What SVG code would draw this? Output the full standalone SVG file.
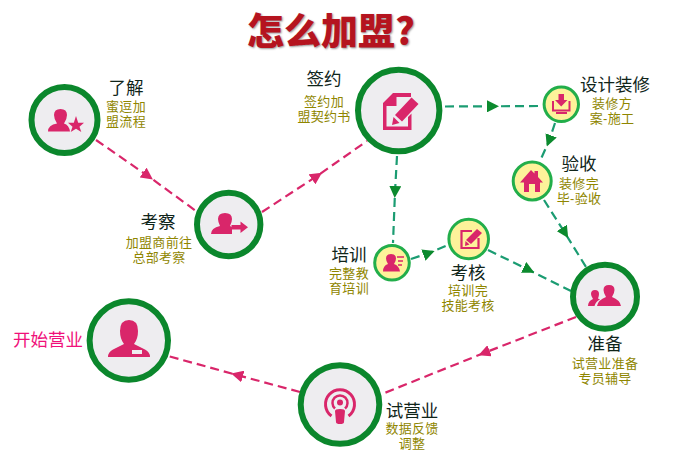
<svg xmlns="http://www.w3.org/2000/svg" width="673" height="458" viewBox="0 0 673 458">
<style>
text{font-family:"Liberation Sans","Noto Sans CJK SC",sans-serif;text-anchor:middle}
.t{font-size:17.500px;fill:#10251a}
.s{font-size:13px;letter-spacing:.3px;fill:#8f8600}
.big{fill:#eeedf0;stroke:#0b872c;stroke-width:6}
.small{fill:#fdf29a;stroke:#22ae4a;stroke-width:3}
.i{fill:#d9266a}
.il{fill:none;stroke:#d9266a;stroke-width:2.5}
.p{fill:none;stroke:#d9266a;stroke-width:2.2;stroke-dasharray:9 5;marker-mid:url(#ap)}
.g{fill:none;stroke:#1b9c72;stroke-width:2.2;stroke-dasharray:9 5;marker-mid:url(#ag)}
</style>
<defs>
<marker id="ap" viewBox="0 0 12 12" refX="6" refY="6" markerWidth="12" markerHeight="12" markerUnits="userSpaceOnUse" orient="auto"><path d="M0 0L12 6L0 12z" fill="#d9266a"/></marker>
<marker id="ag" viewBox="0 0 12 12" refX="6" refY="6" markerWidth="12" markerHeight="12" markerUnits="userSpaceOnUse" orient="auto"><path d="M0 0L12 6L0 12z" fill="#0c8a2e"/></marker>
</defs>
<text x="331" y="45" style="font-family:'Noto Sans CJK SC',sans-serif;font-size:37px;font-weight:900;fill:#b5141f;text-shadow:1px 1px 2px #999">怎么加盟?</text>
<g id="connectors">
<polyline class="p" points="96,140 148,176 196,211"/>
<polyline class="p" points="262,212 317,176 367,141"/>
<polyline class="g" points="445,106.5 493,106.3 541,106"/>
<polyline class="g" points="555,123 549,141 540,161"/>
<polyline class="g" points="544,200 565,233 586,267"/>
<polyline class="g" points="397,156 395,192 393,243"/>
<polyline class="g" points="411,259 429,253 448,245"/>
<polyline class="g" points="488,250 529,270 571,291"/>
<polyline class="p" points="576,317 484,353 382,394"/>
<polyline class="p" points="300,392 237,375 168,356"/>
</g>
<g id="n1">
<circle class="big" cx="64.500" cy="120" r="33"/>
<path class="i" d="M48 131.500Q48 125 57 123.500Q54 119 54 115Q54 109 60.500 109Q67 109 67 115Q67 119 64 123.500Q69 125 70 131.500z"/>
<path class="i" d="M76 116L78.200 122.800H84L79.500 126.700L81.300 132L76 128.800L70.700 132L72.500 126.700L68 122.800H73.800z"/>
<text class="t" x="126" y="94">了解</text>
<text class="s" x="126" y="111">蜜逗加</text>
<text class="s" x="126" y="125.500">盟流程</text>
</g>
<g id="n2">
<circle class="big" cx="228.700" cy="224.500" r="31.700"/>
<path class="i" d="M211 234Q211 228 220 226Q218 222 218 219Q218 213 225 213Q232 213 232 219Q232 222 230 226L232 227V234z"/>
<path class="i" d="M231.500 225H240.500V221.500L248 227.300L240.500 233V229.500H231.500z"/>
<text class="t" x="158" y="228">考察</text>
<text class="s" x="159" y="247">加盟商前往</text>
<text class="s" x="159" y="261.500">总部考察</text>
</g>
<g id="n3">
<circle class="big" cx="398.700" cy="110.500" r="40.700"/>
<path class="i" d="M393 93H411V97H396.500V106H386.500V126.500H408V117L411.500 113.500V130H383V103z"/>
<path class="i" d="M411.500 97.500L418.500 104L402 121.500L395 115z"/>
<path class="i" d="M393.500 117L399.500 123L392 125z"/>
<text class="t" x="324" y="85">签约</text>
<text class="s" x="324" y="106">签约加</text>
<text class="s" x="324" y="120.500">盟契约书</text>
</g>
<g id="n4">
<circle class="small" cx="561.300" cy="104.300" r="17.200"/>
<path class="il" d="M553 101V110.500H569.500V101" style="stroke-width:2"/>
<path class="i" d="M558.500 94H564V100H567.500L561.200 106.500L555 100H558.500z"/>
<path class="i" d="M556 112H567V114H556z"/>
<text class="t" x="615" y="91">设计装修</text>
<text class="s" x="612" y="108">装修方</text>
<text class="s" x="612" y="122.500">案-施工</text>
</g>
<g id="n5">
<circle class="small" cx="532.200" cy="181" r="19"/>
<path class="i" d="M531 170L534.500 173.500V171H538V177L543 182.500H540V192H535V184H529V192H524V182.500H520z"/>
<text class="t" x="579" y="170">验收</text>
<text class="s" x="579" y="188">装修完</text>
<text class="s" x="579" y="202.500">毕-验收</text>
</g>
<g id="n6">
<circle class="small" cx="392" cy="262.800" r="17.300"/>
<path class="i" d="M383 271.500Q383 265.500 388 264Q386 261 386 258.500Q386 254 391 254Q396 254 396 258.500Q396 261 394 264Q399 265.500 400 271.500z"/>
<path class="il" d="M397 257H404M398 261H403M398 265H402" style="stroke-width:1.300"/>
<text class="t" x="349" y="261">培训</text>
<text class="s" x="349" y="278">完整教</text>
<text class="s" x="349" y="292.500">育培训</text>
</g>
<g id="n7">
<circle class="small" cx="468.700" cy="239" r="19.800"/>
<path class="il" d="M472 231H461.500V248H478.500V238" style="stroke-width:2.200"/>
<path class="i" d="M477 229L482 233L471 244L466 240z"/>
<path class="i" d="M465.500 241L469.500 244.500L465 246z"/>
<text class="t" x="468" y="279">考核</text>
<text class="s" x="468" y="295">培训完</text>
<text class="s" x="468" y="309.500">技能考核</text>
</g>
<g id="n8">
<circle class="big" cx="605" cy="296.700" r="32"/>
<path class="i" d="M597 306Q598 300 606 297Q603.500 293 603.500 290Q603.500 285 609 285Q614.500 285 614.500 290Q614.500 293 612 297Q620 300 621 306z"/>
<path class="i" d="M588 306Q588 301 593 299Q591 296 591 294Q591 290 595 290Q599 290 599 294Q599 296 598 298.500L600 299.500Q596 301 594.500 306z"/>
<text class="t" x="605" y="350">准备</text>
<text class="s" x="605" y="368">试营业准备</text>
<text class="s" x="605" y="382.500">专员辅导</text>
</g>
<g id="n9">
<circle class="big" cx="340" cy="404.500" r="39.300"/>
<circle cx="340" cy="402.500" r="3" class="i"/>
<path class="il" d="M335 408.500A7.500 7.500 0 1 1 345 408.500"/>
<path class="il" d="M331.500 416A14.500 14.500 0 1 1 348.500 416" style="stroke-width:3"/>
<path class="i" d="M335 411Q335 409 340 409Q345 409 345 411L344 422Q344 424 340 424Q336 424 336 422z"/>
<text class="t" x="412" y="417">试营业</text>
<text class="s" x="412" y="433">数据反馈</text>
<text class="s" x="412" y="447.500">调整</text>
</g>
<g id="n10">
<circle class="big" cx="128.800" cy="340.500" r="39.200"/>
<path class="i" d="M108 357Q108 352 113 349.500L124 344Q120 339 120 331Q120 320 129 320Q138 320 138 331Q138 339 134 344L145 349.500Q150 352 150 357z"/>
<rect x="132" y="350" width="10" height="4" fill="#eeedf0"/>
<text x="48" y="346" style="font-size:17.500px;fill:#f0107a">开始营业</text>
</g>
</svg>
